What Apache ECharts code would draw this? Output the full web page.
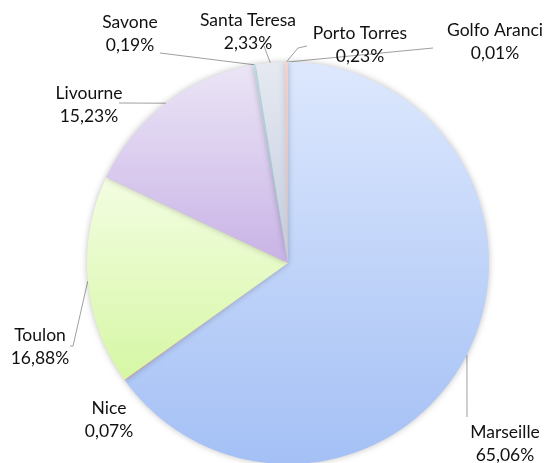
<!DOCTYPE html>
<html><head><meta charset="utf-8">
<script src="https://cdn.jsdelivr.net/npm/echarts@6/dist/echarts.min.js"></script>
<style>html,body{margin:0;padding:0;background:#fff}#c{width:547px;height:463px}</style>
</head><body><div id="c"></div>
<script>
var categories = ['Marseille','Nice','Toulon','Livourne','Savone','Santa Teresa','Porto Torres','Golfo Aranci'];
var values = [65.06, 0.07, 16.88, 15.23, 0.19, 2.33, 0.23, 0.01];

// styling (not data)
var colorTop = ['#dde8fd','#f4c6bd','#f3fde2','#ebe5f6','#c8eef6','#e6e9f1','#f6d4d0','#f8d8b8'];
var colorBot = ['#a4c0f5','#e8a89c','#d6f7a4','#c9b3e6','#9edcea','#c3cde0','#e8b4ae','#f0c090'];
var labelPos = [[505,444],[109,420],[40,347],[89,105],[130,34],[248,32],[360,45],[495,42]];
// label line bend/end points, relative to the label centre (null = no line)
var lineOffsets = [
  [[-38,-27]],
  null,
  [[33,-1],[30,-1]],
  [[30,-2]],
  [[30,19]],
  [[16,14]],
  [[-62,3],[-53,1]],
  [[-62,6]]
];

var data = categories.map(function(n,i){
  return {
    name: n, value: values[i],
    itemStyle: {color: new echarts.graphic.LinearGradient(0,0,0,1,[{offset:0,color:colorTop[i]},{offset:1,color:colorBot[i]}])},
    labelLine: {show: lineOffsets[i] !== null}
  };
});

var chart = echarts.init(document.getElementById('c'), null, {renderer:'canvas'});
chart.setOption({
  animation: false,
  backgroundColor: '#ffffff',
  series: [{
    type: 'pie',
    center: [288, 263],
    radius: 201,
    startAngle: 90,
    clockwise: true,
    avoidLabelOverlap: false,
    data: data,
    itemStyle: {borderWidth: 0, shadowBlur: 6, shadowColor: 'rgba(0,0,0,0.25)'},
    label: {
      show: true,
      position: 'outside',
      fontFamily: 'Lato',
      fontSize: 17.5,
      lineHeight: 23,
      color: '#111111',
      align: 'center',
      formatter: function(p){ return p.name + '\n' + p.value.toFixed(2).replace('.', ',') + '%'; }
    },
    labelLine: {show: true, length: 10, length2: 10, lineStyle: {color: '#a0a0a0', width: 1}},
    labelLayout: function(params){
      var i = params.dataIndex;
      var p = labelPos[i];
      var res = {x: p[0], y: p[1], align: 'center', verticalAlign: 'middle', hideOverlap: false};
      var offs = lineOffsets[i];
      if (offs && params.labelLinePoints && params.labelLinePoints.length) {
        var start = params.labelLinePoints[0];
        var pts = [[start[0], start[1]]];
        offs.forEach(function(o){ pts.push([p[0] + o[0], p[1] + o[1]]); });
        if (pts.length === 2) pts.splice(1, 0, [(pts[0][0]+pts[1][0])/2, (pts[0][1]+pts[1][1])/2]);
        res.labelLinePoints = pts;
      }
      return res;
    }
  }]
});
</script></body></html>
